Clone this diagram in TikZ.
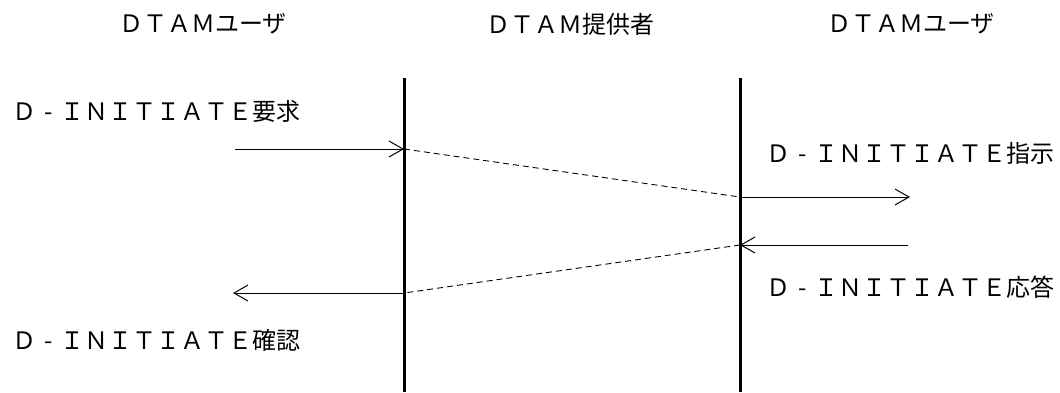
\documentclass[tikz,border=0pt]{standalone}
\usepackage{fontspec}
\newfontfamily\jpfont{Noto Sans CJK JP}
\usetikzlibrary{arrows.meta,positioning}

\newcommand{\hy}{\makebox[1em]{-}}

\tikzset{
  lbl/.style={font=\jpfont\fontsize{24}{28}\selectfont, inner sep=0pt},
  lifeline/.style={line width=3pt},
  prim/.style={line width=1pt, -{Straight Barb[length=14pt,width=16pt,line width=1pt]}},
  pass/.style={line width=0.9pt, dash pattern=on 6pt off 4pt},
}

\begin{document}
\begin{tikzpicture}[x=1pt,y=-1pt]
\useasboundingbox (0,0) rectangle (1060,392);

% Titles
\node[lbl] (userL) at (203,24) {ＤＴＡＭユーザ};
\node[lbl] (prov) at (570,24) {ＤＴＡＭ提供者};
\node[lbl] (userR) at (911,24) {ＤＴＡＭユーザ};

% Lifelines
\coordinate (Ltop) at (404,78);
\coordinate (Lbot) at (404,392);
\coordinate (Rtop) at (740,78);
\coordinate (Rbot) at (740,392);
\draw[lifeline] (Ltop)--(Lbot);
\draw[lifeline] (Rtop)--(Rbot);

% Points on the lifelines
\coordinate (A) at (235,149);
\coordinate (B) at (404,149);
\coordinate (C) at (740,197);
\coordinate (D) at (910,197);
\coordinate (E) at (908,245);
\coordinate (F) at (740,245);
\coordinate (G) at (404,293);
\coordinate (H) at (233,293);

\draw[prim] (A)--(B);
\draw[pass] (B)--(C);
\draw[prim] (C)--(D);
\draw[prim] (E)--(F);
\draw[pass] (F)--(G);
\draw[prim] (G)--(H);

% Labels
\node[lbl, anchor=west] (req) at (12,111) {Ｄ\hy ＩＮＩＴＩＡＴＥ要求};
\node[lbl, anchor=west] (ind) at (766,153) {Ｄ\hy ＩＮＩＴＩＡＴＥ指示};
\node[lbl, anchor=west] (rsp) at (766,287) {Ｄ\hy ＩＮＩＴＩＡＴＥ応答};
\node[lbl, anchor=west] (cnf) at (12,340) {Ｄ\hy ＩＮＩＴＩＡＴＥ確認};

\end{tikzpicture}
\end{document}
